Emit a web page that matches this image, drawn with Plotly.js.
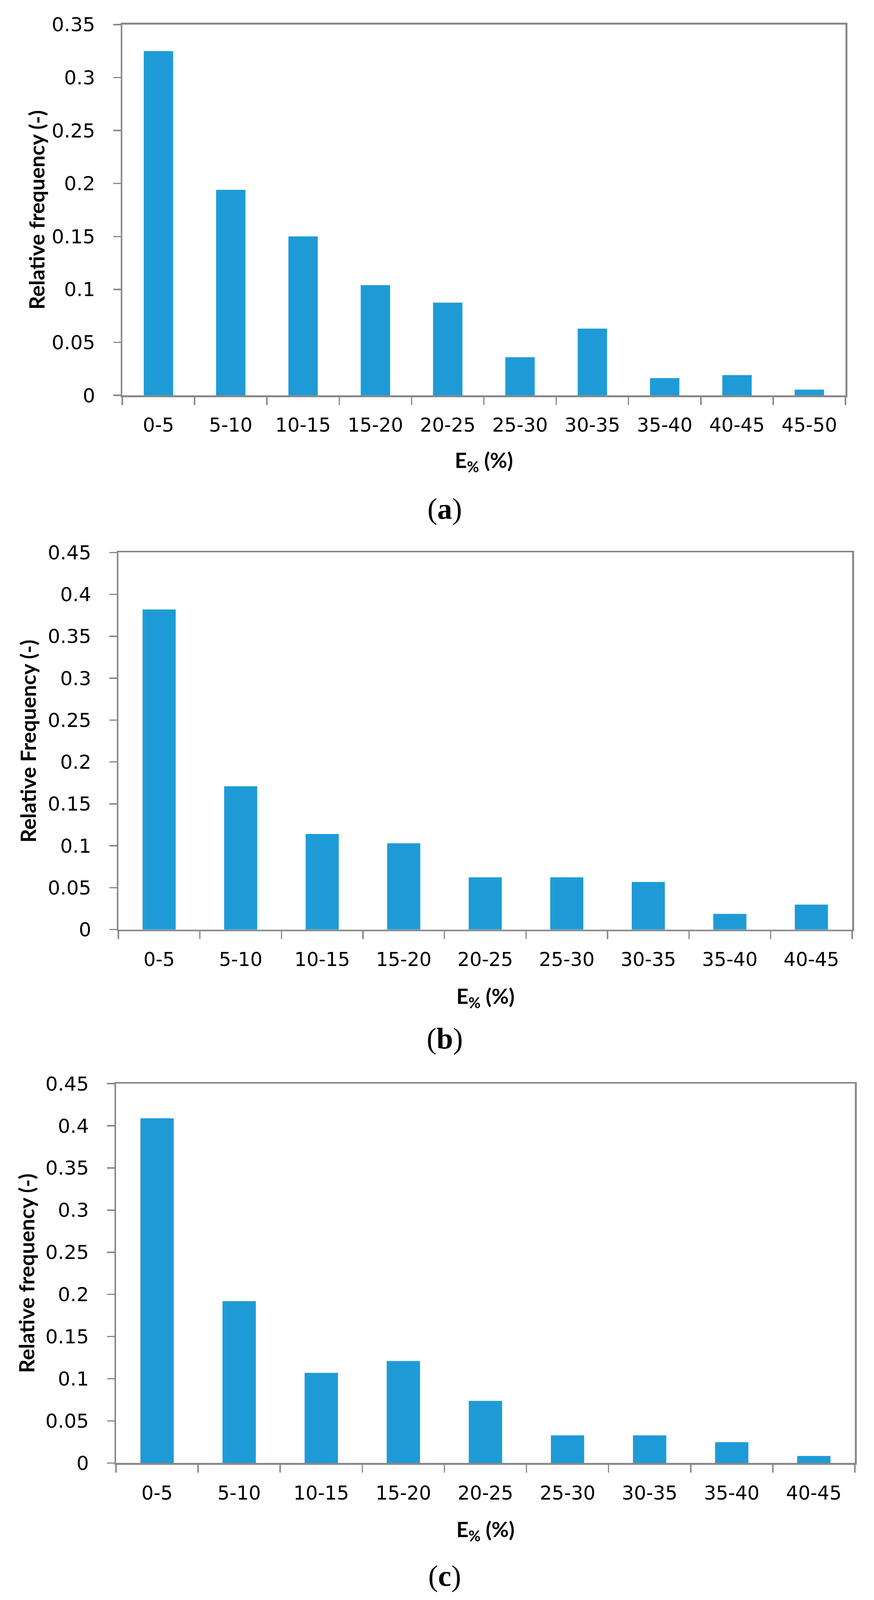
<!DOCTYPE html>
<html>
<head>
<meta charset="utf-8">
<script src="https://cdn.plot.ly/plotly-3.0.1.min.js"></script>
<style>
  html, body { margin: 0; padding: 0; background: #ffffff; overflow: hidden; }
</style>
</head>
<body>
<div id="plot"></div>
<script>
(function () {
  "use strict";

  // values
  var CATS_A = ["0-5", "5-10", "10-15", "15-20", "20-25", "25-30", "30-35", "35-40", "40-45", "45-50"];
  var FREQ_A = [0.325, 0.194, 0.150, 0.104, 0.0875, 0.036, 0.063, 0.0163, 0.0191, 0.0054];

  var CATS_BC = ["0-5", "5-10", "10-15", "15-20", "20-25", "25-30", "30-35", "35-40", "40-45"];
  var FREQ_B = [0.382, 0.171, 0.114, 0.103, 0.0623, 0.0623, 0.0568, 0.0187, 0.0298];
  var FREQ_C = [0.409, 0.192, 0.107, 0.121, 0.0737, 0.0328, 0.0328, 0.0247, 0.0084];

  var YTICKS_A = [0, 0.05, 0.1, 0.15, 0.2, 0.25, 0.3, 0.35];
  var YTEXT_A = ["0", "0.05", "0.1", "0.15", "0.2", "0.25", "0.3", "0.35"];
  var YTICKS_BC = [0, 0.05, 0.1, 0.15, 0.2, 0.25, 0.3, 0.35, 0.4, 0.45];
  var YTEXT_BC = ["0", "0.05", "0.1", "0.15", "0.2", "0.25", "0.3", "0.35", "0.4", "0.45"];

  var Y_TITLES = ["Relative frequency (-)", "Relative Frequency (-)", "Relative frequency (-)"];
  var PANEL_LABELS = ["a", "b", "c"];

  /*
    The figure was measured on a 2237 x 4298 page. The browser window
    can come out shorter than that, so vertical positions are scaled
    to the real window height; otherwise panel (c) gets cut off.
  */
  var REF_W = 2237;
  var REF_H = 4298;
  var W = REF_W;
  var H = Math.min(window.innerHeight || REF_H, REF_H);

  var BAR = "#1e9bd7";
  var AXIS = "#898989";
  var TICK_FONT = "DejaVu Sans, Verdana, sans-serif";
  var TITLE_FONT = "Lato, Open Sans, sans-serif";
  var SERIF = "Liberation Serif, Times New Roman, serif";

  // panel frames and text spots, in reference pixels
  var FRAMES = [
    { l: 313, r: 2164, t: 66, b: 1062, ytx: 93, xty: 1239, lab: 1367 },
    { l: 303, r: 2181, t: 1484, b: 2497, ytx: 72, xty: 2679, lab: 2790 },
    { l: 297, r: 2188, t: 2911, b: 3930, ytx: 68, xty: 4111, lab: 4233 }
  ];

  function px(x) { return x / REF_W; }
  function py(y) { return 1 - y / REF_H; }

  function xAxis(frame, anchor) {
    return {
      domain: [px(frame.l), px(frame.r)],
      anchor: anchor,
      type: "category",
      tickson: "boundaries",
      ticks: "outside",
      ticklen: 20,
      tickwidth: 3.5,
      tickcolor: AXIS,
      showline: true,
      linecolor: AXIS,
      linewidth: 4.5,
      mirror: true,
      showgrid: false,
      zeroline: false,
      automargin: false,
      ticklabelstandoff: 30,
      tickfont: { family: TICK_FONT, size: 49, color: "#000000" },
      fixedrange: true
    };
  }

  function yAxis(frame, anchor, vals, text) {
    return {
      domain: [py(frame.b), py(frame.t)],
      anchor: anchor,
      range: [0, vals[vals.length - 1]],
      tickmode: "array",
      tickvals: vals,
      ticktext: text,
      ticks: "outside",
      ticklen: 19,
      tickwidth: 3.5,
      tickcolor: AXIS,
      showline: true,
      linecolor: AXIS,
      linewidth: 4.5,
      mirror: true,
      showgrid: false,
      zeroline: false,
      automargin: false,
      ticklabelstandoff: 36,
      tickfont: { family: TICK_FONT, size: 50, color: "#000000" },
      fixedrange: true
    };
  }

  function barTrace(cats, vals, xa, ya) {
    return {
      type: "bar",
      x: cats,
      y: vals,
      xaxis: xa,
      yaxis: ya,
      marker: { color: BAR, line: { width: 0 } },
      hoverinfo: "skip",
      showlegend: false
    };
  }

  function panelAnnotations(frame, yTitle, label) {
    var mid = (frame.t + frame.b) / 2;
    var cx = (frame.l + frame.r) / 2;

    return [
      {
        xref: "paper", yref: "paper",
        x: px(frame.ytx), y: py(mid),
        text: yTitle,
        textangle: -90,
        showarrow: false,
        xanchor: "center", yanchor: "middle",
        font: { family: TITLE_FONT, size: 54, weight: "bold", color: "#000000" }
      },
      {
        xref: "paper", yref: "paper",
        x: px(cx), y: py(frame.xty),
        text: "E<sub>%</sub> (%)",
        showarrow: false,
        xanchor: "center", yanchor: "middle",
        font: { family: TITLE_FONT, size: 54, weight: "bold", color: "#000000" }
      },
      {
        xref: "paper", yref: "paper",
        x: px(1138), y: py(frame.lab),
        text: "(<b>" + label + "</b>)",
        showarrow: false,
        xanchor: "center", yanchor: "middle",
        font: { family: SERIF, size: 76, color: "#000000" }
      }
    ];
  }

  var traces = [
    barTrace(CATS_A, FREQ_A, "x", "y"),
    barTrace(CATS_BC, FREQ_B, "x2", "y2"),
    barTrace(CATS_BC, FREQ_C, "x3", "y3")
  ];

  var annotations = []
    .concat(panelAnnotations(FRAMES[0], Y_TITLES[0], PANEL_LABELS[0]))
    .concat(panelAnnotations(FRAMES[1], Y_TITLES[1], PANEL_LABELS[1]))
    .concat(panelAnnotations(FRAMES[2], Y_TITLES[2], PANEL_LABELS[2]));

  var layout = {
    width: W,
    height: H,
    margin: { l: 0, r: 0, t: 0, b: 0, pad: 0 },
    paper_bgcolor: "#ffffff",
    plot_bgcolor: "#ffffff",
    bargap: 0.594,
    showlegend: false,

    xaxis: xAxis(FRAMES[0], "y"),
    yaxis: yAxis(FRAMES[0], "x", YTICKS_A, YTEXT_A),
    xaxis2: xAxis(FRAMES[1], "y2"),
    yaxis2: yAxis(FRAMES[1], "x2", YTICKS_BC, YTEXT_BC),
    xaxis3: xAxis(FRAMES[2], "y3"),
    yaxis3: yAxis(FRAMES[2], "x3", YTICKS_BC, YTEXT_BC),

    annotations: annotations
  };

  Plotly.newPlot("plot", traces, layout, { displayModeBar: false, staticPlot: true });
})();
</script>
</body>
</html>
